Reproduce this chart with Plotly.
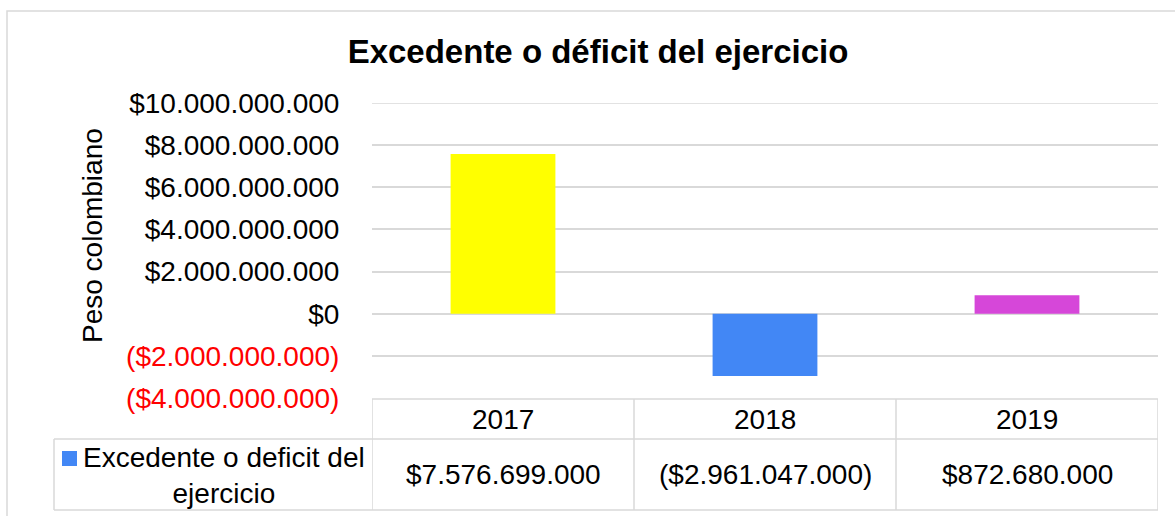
import plotly.graph_objects as go

# ---- data ----
years = ["2017", "2018", "2019"]
values = [7576699000, -2961047000, 872680000]
bar_colors = ["#FFFF00", "#4287F5", "#D647D9"]
series_name = "Excedente o deficit del<br>ejercicio"
title_text = "Excedente o déficit del ejercicio"
y_title = "Peso colombiano"
tick_values = [-4e9, -2e9, 0, 2e9, 4e9, 6e9, 8e9, 10e9]

FONT = "Liberation Sans, Arial, sans-serif"
FS = 28
GRID = "#D9D9D9"
W, H = 1175, 516
L, R, T, B = 372, 17, 103, 118
PW, PH = W - L - R, H - T - B


def money(v):
    s = "$" + f"{abs(v):,.0f}".replace(",", ".")
    return f"({s})" if v < 0 else s


def tick_label(v):
    s = money(v)
    if v < 0:
        return f"<span style='color:#FF0000'>{s}</span>"
    return s


def px(xp):
    return (xp - L) / PW


def py(yp):
    return (H - B - yp) / PH


fig = go.Figure()
fig.add_trace(go.Bar(
    x=years, y=values, marker=dict(color=bar_colors, line=dict(width=0)),
    width=0.4, showlegend=False,
))

shapes = []
line = dict(color=GRID, width=1.5)
# outer chart border
shapes.append(dict(type="rect", xref="paper", yref="paper",
                   x0=px(7), x1=px(W + 5), y0=py(H + 5), y1=py(11),
                   line=dict(color=GRID, width=1.5), layer="below"))
# top gridline (edge of axis range)
shapes.append(dict(type="line", xref="paper", yref="y", x0=0, x1=1,
                   y0=tick_values[-1], y1=tick_values[-1], line=line, layer="below"))
# data table horizontal lines
shapes.append(dict(type="line", xref="paper", yref="paper", x0=0, x1=1, y0=py(399), y1=py(399), line=line))
shapes.append(dict(type="line", xref="paper", yref="paper", x0=px(54), x1=1, y0=py(439), y1=py(439), line=line))
shapes.append(dict(type="line", xref="paper", yref="paper", x0=px(54), x1=1, y0=py(510), y1=py(510), line=line))
# vertical lines
shapes.append(dict(type="line", xref="paper", yref="paper", x0=px(54), x1=px(54), y0=py(510), y1=py(439), line=line))
for i in range(len(years) + 1):
    shapes.append(dict(type="line", xref="x", yref="paper", x0=i - 0.5, x1=i - 0.5,
                       y0=py(510), y1=py(399), line=line))
# legend key
shapes.append(dict(type="rect", xref="paper", yref="paper", x0=px(62), x1=px(77),
                   y0=py(466), y1=py(451), fillcolor=bar_colors[1], line=dict(width=0)))

annotations = []
for i, (yr, v) in enumerate(zip(years, values)):
    annotations.append(dict(x=i, xref="x", y=py(419), yref="paper", text=yr, showarrow=False,
                            font=dict(family=FONT, size=FS, color="#000000"),
                            xanchor="center", yanchor="middle"))
    annotations.append(dict(x=i, xref="x", y=py(474.5), yref="paper", text=money(v), showarrow=False,
                            font=dict(family=FONT, size=FS, color="#000000"),
                            xanchor="center", yanchor="middle"))
annotations.append(dict(x=px(224), xref="paper", y=py(475), yref="paper", text=series_name,
                        showarrow=False, align="center",
                        font=dict(family=FONT, size=FS, color="#000000"),
                        xanchor="center", yanchor="middle"))
annotations.append(dict(x=px(92), xref="paper", y=py(236), yref="paper", text=y_title,
                        showarrow=False, textangle=-90,
                        font=dict(family=FONT, size=FS, color="#000000"),
                        xanchor="center", yanchor="middle"))

fig.update_layout(
    width=W, height=H,
    margin=dict(l=L, r=R, t=T, b=B),
    paper_bgcolor="white", plot_bgcolor="white",
    title=dict(text=f"<b>{title_text}</b>", x=598 / W, xref="container", xanchor="center",
               y=1 - 51 / H, yref="container", yanchor="middle",
               font=dict(family=FONT, size=33, color="#000000")),
    xaxis=dict(type="category", range=[-0.5, 2.5], showticklabels=False, showgrid=False,
               zeroline=False, showline=False, ticks=""),
    yaxis=dict(range=[-4e9, 10e9], tickvals=tick_values,
               ticktext=[tick_label(v) for v in tick_values],
               tickfont=dict(family=FONT, size=FS, color="#000000"),
               showgrid=True, gridcolor=GRID, gridwidth=1.5,
               zeroline=True, zerolinecolor=GRID, zerolinewidth=1.5,
               showline=False, ticks="outside", ticklen=26, tickcolor="rgba(0,0,0,0)"),
    shapes=shapes, annotations=annotations,
    bargap=0.6,
)

fig.write_html("out.html", config={"displayModeBar": False},
               post_script="document.body.style.margin='0';document.body.style.overflow='hidden';")
